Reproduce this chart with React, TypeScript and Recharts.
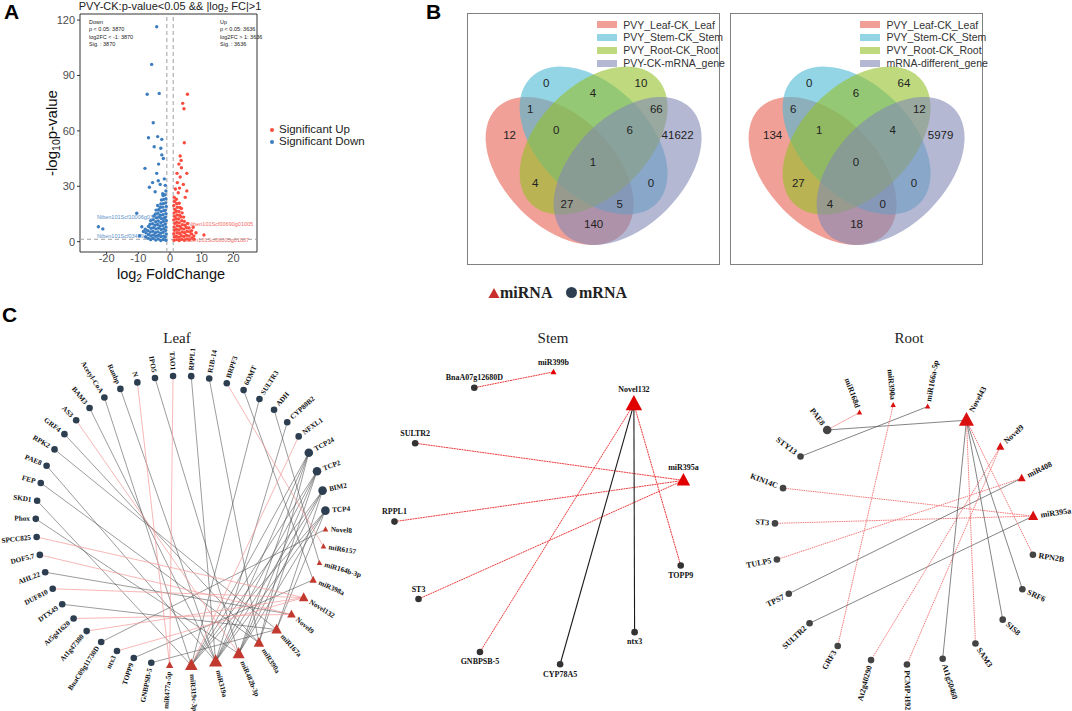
import React from 'react';
import { ScatterChart, Scatter, XAxis, YAxis, ReferenceLine, ReferenceArea } from 'recharts';

const SANS = '"Liberation Sans", Arial, sans-serif';
const SERIF = '"Liberation Serif", "Times New Roman", serif';

// ---------------- Panel A: volcano ----------------
const downPoints: [number, number][] = [
  [-4.2, 116.4], [-5.8, 96], [-7.2, 79.8], [-3.4, 80.3], [-5.3, 64.4], [-6.8, 56.3], [-3.9, 56.9], [-2.6, 55.4],
  [-2.9, 50.6], [-5.0, 51.4], [-2.6, 47], [-2.1, 45], [-7.9, 39.7], [-4.2, 37], [-3.7, 33], [-5.5, 32], [-3.1, 31],
  [-6.5, 29.5], [-4.7, 27], [-2.3, 26], [-10.5, 15.4], [-22.6, 8.1], [-21.2, 6.9], [-8.9, 8.1], [-8.4, 5.5],
  [-9.6, 3.2], [-1.8, 34], [-1.5, 30.5], [-3.6, 42],
  [-1.3, 0.8], [-1.5, 2.5], [-1.2, 4.2], [-1.4, 6.0], [-1.3, 7.9], [-1.5, 9.6], [-1.2, 11.5], [-1.4, 13.3],
  [-1.3, 15.2], [-1.5, 17.0], [-1.2, 19.1], [-1.4, 21.0], [-1.3, 23.2], [-1.6, 25.4], [-1.3, 27.5],
  [-2.1, 1.2], [-2.0, 3.0], [-2.2, 5.1], [-2.0, 7.0], [-2.3, 8.8], [-2.1, 10.9], [-1.9, 12.7], [-2.2, 14.6],
  [-2.0, 16.8], [-2.3, 18.7], [-2.1, 20.6], [-2.0, 22.9], [-2.2, 25.0],
  [-2.9, 0.6], [-2.8, 2.7], [-3.0, 4.6], [-2.8, 6.6], [-3.1, 8.5], [-2.9, 10.3], [-2.7, 12.4], [-3.0, 14.3],
  [-2.8, 16.4], [-3.1, 18.5], [-2.9, 20.4], [-2.7, 22.6],
  [-3.7, 1.4], [-3.6, 3.4], [-3.8, 5.3], [-3.6, 7.4], [-3.9, 9.3], [-3.7, 11.2], [-3.5, 13.3], [-3.8, 15.4],
  [-3.6, 17.3], [-3.9, 19.6],
  [-4.5, 0.9], [-4.4, 2.9], [-4.6, 4.8], [-4.4, 6.9], [-4.7, 8.9], [-4.5, 10.8], [-4.3, 12.9], [-4.6, 15.0], [-4.4, 17.1],
  [-5.3, 1.7], [-5.2, 3.7], [-5.4, 5.6], [-5.2, 7.6], [-5.5, 9.7], [-5.3, 11.8], [-5.1, 13.9],
  [-6.1, 1.1], [-6.0, 3.1], [-6.2, 5.2], [-6.0, 7.3], [-6.3, 9.4], [-6.1, 11.4],
  [-6.9, 1.8], [-6.8, 3.9], [-7.0, 6.0], [-6.8, 8.2],
  [-7.7, 2.6], [-7.6, 4.8], [-7.8, 6.7],
];

const upPoints: [number, number][] = [
  [5.5, 79.8], [4.0, 74.9], [4.4, 72], [4.5, 53.6], [3.2, 46.4], [3.5, 44], [2.8, 42], [3.6, 40], [2.2, 37],
  [5.3, 37], [3.2, 35], [2.3, 32], [4.2, 31], [3.0, 29], [5.3, 27.5], [10.7, 3.6], [6.8, 6], [1.7, 28.5],
  [2.6, 26.5], [8.2, 4.8], [7.3, 7.8], [4.8, 24],
  [1.3, 0.7], [1.4, 2.5], [1.2, 4.3], [1.4, 6.2], [1.3, 8.0], [1.5, 9.9], [1.2, 11.8], [1.4, 13.7], [1.3, 15.6],
  [1.5, 17.5], [1.2, 19.6], [1.4, 21.8], [1.3, 24.0],
  [2.1, 1.1], [2.0, 2.9], [2.2, 4.8], [2.0, 6.7], [2.3, 8.6], [2.1, 10.5], [1.9, 12.4], [2.2, 14.4], [2.0, 16.5],
  [2.3, 18.6], [2.1, 20.7], [2.0, 23.0],
  [2.9, 0.6], [2.8, 2.4], [3.0, 4.4], [2.8, 6.3], [3.1, 8.3], [2.9, 10.2], [2.7, 12.3], [3.0, 14.3], [2.8, 16.3],
  [3.1, 18.5], [2.9, 20.8],
  [3.7, 1.3], [3.6, 3.2], [3.8, 5.2], [3.6, 7.2], [3.9, 9.2], [3.7, 11.3], [3.5, 13.4], [3.8, 15.6], [3.6, 18.0],
  [4.5, 0.8], [4.4, 2.8], [4.6, 4.8], [4.4, 6.8], [4.7, 8.9], [4.5, 11.0], [4.3, 13.3],
  [5.3, 1.5], [5.2, 3.5], [5.4, 5.6], [5.2, 7.7], [5.5, 9.9],
  [6.1, 1.0], [6.0, 3.1], [6.2, 5.3], [6.0, 7.4],
  [6.9, 2.0], [6.8, 4.2],
  [7.6, 1.4], [7.5, 3.1],
];

const volcanoXTicks = [-20, -10, 0, 10, 20];
const volcanoYTicks = [0, 30, 60, 90, 120];
const downStats = ['Down', 'p < 0.05: 3870', 'log2FC < -1: 3870', 'Sig. : 3870'];
const upStats = ['Up', 'p < 0.05: 3636', 'log2FC > 1: 3636', 'Sig. : 3636'];

// ---------------- Panel B: Venn ----------------
const vennSets1 = ['PVY_Leaf-CK_Leaf', 'PVY_Stem-CK_Stem', 'PVY_Root-CK_Root', 'PVY-CK-mRNA_gene'];
const vennSets2 = ['PVY_Leaf-CK_Leaf', 'PVY_Stem-CK_Stem', 'PVY_Root-CK_Root', 'mRNA-different_gene'];
// regions: S, SR, R, LS, RM, L, LSR, SRM, M, LSRM, LR, SM, LRM, LSM, LM
const vennCounts1 = [0, 4, 10, 1, 66, 12, 0, 6, 41622, 1, 4, 0, 27, 5, 140];
const vennCounts2 = [0, 6, 64, 6, 12, 134, 1, 4, 5979, 0, 27, 0, 4, 0, 18];

// ---------------- Panel C: networks ----------------
type Edge = [string, string, 'grey' | 'red'];

const leafOrder = [
  'TCP4', 'Novel8', 'miR6157', 'miR164b-3p', 'miR398a', 'Novel132', 'Novel9', 'miR167a', 'miR390a', 'miR482b-3p',
  'miR319a', 'miR319c-3p', 'miR477a-5p', 'GNBPSB-5', 'TOPP9', 'ntx3', 'BnaC09g11730D', 'At1g47380', 'At5g41620',
  'DTX49', 'DUF810', 'AHL22', 'DOF5.7', 'SPCC825', 'Phox', 'SKD1', 'FEP', 'PAE8', 'RPK2', 'GRF4', 'AS3', 'BAM3',
  'Acetyl-CoA', 'Ranbp', 'N', 'IPO5', 'TAO1', 'RPPL1', 'R1B-14', 'BRPF3', '6OMT', 'SULTR3', 'ADH', 'CYP80B2',
  'NFXL1', 'TCP24', 'TCP2', 'BIM2',
];

const leafEdges: Edge[] = [
  ['TCP24', 'miR319a', 'grey'], ['TCP24', 'miR319c-3p', 'grey'], ['TCP24', 'miR482b-3p', 'grey'], ['TCP24', 'miR390a', 'grey'],
  ['TCP2', 'miR319a', 'grey'], ['TCP2', 'miR319c-3p', 'grey'], ['TCP2', 'miR482b-3p', 'grey'], ['TCP2', 'miR390a', 'grey'],
  ['BIM2', 'miR319a', 'grey'], ['BIM2', 'miR319c-3p', 'grey'], ['BIM2', 'miR482b-3p', 'grey'], ['BIM2', 'miR167a', 'grey'],
  ['TCP4', 'miR319a', 'grey'], ['TCP4', 'miR319c-3p', 'grey'], ['TCP4', 'miR482b-3p', 'grey'], ['TCP4', 'miR167a', 'grey'],
  ['Ranbp', 'miR319a', 'grey'], ['IPO5', 'miR482b-3p', 'grey'], ['RPPL1', 'miR319a', 'grey'], ['R1B-14', 'miR390a', 'grey'],
  ['Acetyl-CoA', 'miR319c-3p', 'grey'], ['BAM3', 'miR319a', 'grey'], ['GRF4', 'miR390a', 'grey'], ['RPK2', 'miR167a', 'grey'],
  ['PAE8', 'miR319a', 'grey'], ['FEP', 'miR390a', 'grey'], ['SKD1', 'miR319c-3p', 'grey'], ['Phox', 'miR482b-3p', 'grey'],
  ['AHL22', 'Novel9', 'grey'], ['DTX49', 'miR167a', 'grey'], ['BnaC09g11730D', 'Novel8', 'grey'], ['TOPP9', 'miR398a', 'grey'],
  ['GNBPSB-5', 'miR167a', 'grey'], ['CYP80B2', 'miR319a', 'grey'], ['ADH', 'miR164b-3p', 'grey'], ['SULTR3', 'miR319c-3p', 'grey'],
  ['6OMT', 'miR398a', 'grey'],
  ['N', 'miR477a-5p', 'red'], ['TAO1', 'miR477a-5p', 'red'], ['BRPF3', 'miR6157', 'red'], ['NFXL1', 'miR319c-3p', 'red'],
  ['AS3', 'miR482b-3p', 'red'], ['SPCC825', 'Novel132', 'red'], ['DOF5.7', 'Novel9', 'red'], ['DUF810', 'Novel132', 'red'],
  ['At5g41620', 'Novel9', 'red'], ['At1g47380', 'Novel132', 'red'], ['ntx3', 'Novel132', 'red'],
];

const stemOrder = ['miR399b', 'Novel132', 'miR395a', 'TOPP9', 'ntx3', 'CYP78A5', 'GNBPSB-5', 'ST3', 'RPPL1', 'SULTR2', 'BnaA07g12680D'];
const stemEdges: Edge[] = [
  ['BnaA07g12680D', 'miR399b', 'red'], ['SULTR2', 'miR395a', 'red'], ['RPPL1', 'miR395a', 'red'], ['ST3', 'miR395a', 'red'],
  ['GNBPSB-5', 'Novel132', 'red'], ['CYP78A5', 'Novel132', 'grey'], ['ntx3', 'Novel132', 'grey'], ['TOPP9', 'Novel132', 'red'],
];

const rootOrder = [
  'miR390a', 'miR166a-5p', 'Novel43', 'Novel9', 'miR408', 'miR395a', 'RPN2B', 'SRF6', 'SIS8', 'SAM3', 'At1g50460',
  'PCMP-H92', 'At2g40290', 'GRF3', 'SULTR2', 'TPS7', 'TULP5', 'ST3', 'KIN14C', 'STY13', 'PAE8', 'miR168d',
];
const rootEdges: Edge[] = [
  ['PAE8', 'miR168d', 'red'], ['PAE8', 'Novel43', 'grey'], ['STY13', 'miR166a-5p', 'grey'], ['GRF3', 'miR390a', 'red'],
  ['KIN14C', 'miR395a', 'red'], ['ST3', 'miR395a', 'red'], ['SULTR2', 'miR395a', 'grey'], ['TULP5', 'miR408', 'red'],
  ['TPS7', 'miR408', 'grey'], ['At2g40290', 'Novel9', 'red'], ['PCMP-H92', 'Novel9', 'red'], ['At1g50460', 'Novel43', 'grey'],
  ['SAM3', 'Novel43', 'red'], ['SIS8', 'Novel43', 'grey'], ['SRF6', 'Novel43', 'grey'], ['RPN2B', 'Novel43', 'red'],
];

// ---------------- layout & style ----------------
const vennColors = ['#E66152', '#4BB9D4', '#94C028', '#8289B6'];
const vennAxes = { rx: 89, ry: 55 };
const vennEllipses = [
  { x: 92.6, y: 158, rot: 45 },
  { x: 126.6, y: 127.6, rot: 45 },
  { x: 126.6, y: 127.6, rot: -45 },
  { x: 160.6, y: 158, rot: -45 },
];
const vennLabelPos = [
  [79.3, 69.6], [126, 80], [174, 69.6], [63.3, 95.6], [189.3, 95.6], [42.6, 122.3], [89.3, 116.6], [162.6, 116.6],
  [210.6, 122.3], [126, 149], [68.3, 169.6], [184, 169.6], [100, 190.6], [152.6, 190.6], [126.6, 211.3],
];

type NetCfg = {
  cx: number; cy: number; radius: number; span: number; start: number; gapBase: number;
  tri: [number, number]; cir: [number, number]; triColor: string; cirColor: string;
  grey: { stroke: string; width: number; opacity: number; dash?: string };
  red: { stroke: string; width: number; opacity: number; dash?: string };
  labels: 'radial' | 'stem'; fontSize: number;
};

const leafCfg: NetCfg = {
  cx: 181, cy: 521, radius: 145, span: 1.35, start: 4, gapBase: 11,
  tri: [2.8, 0.39], cir: [3.3, 0.19], triColor: '#C23A2F', cirColor: '#2C3E50',
  grey: { stroke: '#4d4d4d', width: 0.7, opacity: 0.8 },
  red: { stroke: '#F49A9A', width: 0.8, opacity: 0.9 },
  labels: 'radial', fontSize: 7.2,
};
const stemCfg: NetCfg = {
  cx: 541, cy: 518, radius: 147, span: 1.35, start: 85.3, gapBase: 60,
  tri: [3, 0.73], cir: [3.3, 0.3], triColor: '#E00000', cirColor: '#333333',
  grey: { stroke: '#1a1a1a', width: 1.1, opacity: 1 },
  red: { stroke: '#EE3B3B', width: 1, opacity: 1, dash: '2 0.6' },
  labels: 'stem', fontSize: 8,
};
const rootCfg: NetCfg = {
  cx: 904.5, cy: 534, radius: 130, span: 1.45, start: 95, gapBase: 19.4,
  tri: [2.7, 0.57], cir: [3.3, 0.38], triColor: '#DA1010', cirColor: '#444444',
  grey: { stroke: '#555555', width: 0.8, opacity: 0.9 },
  red: { stroke: '#F26B6B', width: 0.9, opacity: 1, dash: '1.5 0.8' },
  labels: 'radial', fontSize: 8,
};

const isMiRNA = (n: string) => /^(miR|Novel)/.test(n);

function buildNetwork(order: string[], edges: Edge[], cfg: NetCfg) {
  const deg: Record<string, number> = {};
  order.forEach((n) => (deg[n] = 0));
  edges.forEach(([a, b]) => {
    deg[a] += 1;
    deg[b] += 1;
  });
  const sizes = order.map((n) => {
    const d = Math.max(deg[n], 1);
    return isMiRNA(n) ? cfg.tri[0] * Math.pow(d, cfg.tri[1]) : cfg.cir[0] * Math.pow(d, cfg.cir[1]);
  });
  const raw = order.map((_, i) => cfg.gapBase + sizes[i] + sizes[(i + 1) % order.length]);
  const total = raw.reduce((s, v) => s + v, 0);
  let ang = cfg.start;
  const nodes = order.map((name, i) => {
    const r = (ang * Math.PI) / 180;
    const nd = { name, x: Math.cos(r), y: Math.sin(r), ang, s: sizes[i], mi: isMiRNA(name) };
    ang -= (raw[i] * 360) / total;
    return nd;
  });
  const byName: Record<string, (typeof nodes)[number]> = {};
  nodes.forEach((n) => (byName[n.name] = n));
  return { nodes, byName };
}

const Txt = ({ x, y, size, children, style }: any) => (
  <div style={{ position: 'absolute', left: x, top: y, fontSize: size, lineHeight: 1, whiteSpace: 'nowrap', ...style }}>
    {children}
  </div>
);
const Sub = ({ children }: any) => <span style={{ fontSize: '0.7em', verticalAlign: '-0.3em' }}>{children}</span>;

function Volcano() {
  const down = downPoints.map(([x, y]) => ({ x, y }));
  const up = upPoints.map(([x, y]) => ({ x, y }));
  const dot = (fill: string) => (p: any) => <circle cx={p.cx} cy={p.cy} r={1.7} fill={fill} />;
  const tick = { fontSize: 11, fill: '#4d4d4d', fontFamily: SANS };
  return (
    <div style={{ position: 'absolute', left: 0, top: 0, width: 380, height: 290 }}>
      <Txt x={97} y={215} size={5.5} style={{ color: '#5b8fc9' }}>Niben101Scf10006g03002</Txt>
      <Txt x={97} y={234} size={5.5} style={{ color: '#5b8fc9' }}>Niben101Scf03489g00013</Txt>
      <Txt x={188} y={222} size={5.5} style={{ color: '#f26a63' }}>Niben101Scf00690g01005</Txt>
      <Txt x={184} y={238} size={5.5} style={{ color: '#f26a63' }}>Niben101Scf06005g01007</Txt>
      <div style={{ position: 'absolute', left: 0, top: 0 }}>
        <ScatterChart width={380} height={290} margin={{ top: 14, right: 123, bottom: 18, left: 50 }}>
          <XAxis type="number" dataKey="x" domain={[-28.4, 27.44]} ticks={volcanoXTicks} interval={0}
            allowDataOverflow axisLine={false} tickLine={{ stroke: '#333' }} tickSize={2} tickMargin={0} height={20} tick={tick} />
          <YAxis type="number" dataKey="y" domain={[-5.6, 123.3]} ticks={volcanoYTicks} interval={0}
            allowDataOverflow axisLine={false} tickLine={{ stroke: '#333' }} tickSize={3} width={30} tick={tick} />
          <ReferenceLine x={-1} stroke="#a0a0a0" strokeDasharray="4 3" />
          <ReferenceLine x={1} stroke="#a0a0a0" strokeDasharray="4 3" />
          <ReferenceLine y={1.3} stroke="#a0a0a0" strokeDasharray="4 3" />
          <Scatter data={down} shape={dot('#3C7DC0')} isAnimationActive={false} />
          <Scatter data={up} shape={dot('#FB4B3E')} isAnimationActive={false} />
          <ReferenceArea x1={-28.4} x2={27.44} y1={-5.6} y2={123.3} fill="none" stroke="#333" strokeWidth={1} ifOverflow="visible" />
        </ScatterChart>
      </div>
      <div style={{ position: 'absolute', left: 89, top: 19, fontSize: 5.5, lineHeight: '7.3px', color: '#222' }}>
        {downStats.map((s) => <div key={s}>{s}</div>)}
      </div>
      <div style={{ position: 'absolute', left: 220, top: 19, fontSize: 5.5, lineHeight: '7.3px', color: '#222' }}>
        {upStats.map((s) => <div key={s}>{s}</div>)}
      </div>
      <Txt x={170} y={7} size={11} style={{ transform: 'translate(-50%,-50%)', color: '#222' }}>
        PVY-CK:p-value&lt;0.05 &amp;&amp; |log<Sub>2</Sub> FC|&gt;1
      </Txt>
      <Txt x={53} y={133} size={15} style={{ transform: 'translate(-50%,-50%) rotate(-90deg)', color: '#111' }}>
        -log<Sub>10</Sub>p-value
      </Txt>
      <Txt x={171} y={276} size={14.5} style={{ transform: 'translate(-50%,-50%)', color: '#111' }}>
        log<Sub>2</Sub> FoldChange
      </Txt>
      <div style={{ position: 'absolute', left: 270, top: 128, width: 4, height: 4, borderRadius: 2, background: '#FB4B3E' }} />
      <div style={{ position: 'absolute', left: 270, top: 140, width: 4, height: 4, borderRadius: 2, background: '#3C7DC0' }} />
      <Txt x={279} y={124} size={11.5} style={{ color: '#222' }}>Significant Up</Txt>
      <Txt x={279} y={136} size={11.5} style={{ color: '#222' }}>Significant Down</Txt>
    </div>
  );
}

function Venn({ left, sets, counts }: { left: number; sets: string[]; counts: number[] }) {
  const ellipses = vennEllipses.map((e, i) => ({ ...e, color: vennColors[i] }));
  const labels = counts.map((c, i) => ({ x: vennLabelPos[i][0], y: vennLabelPos[i][1], c }));
  const EllipseShape = (p: any) => (
    <ellipse cx={p.cx} cy={p.cy} rx={vennAxes.rx} ry={vennAxes.ry} transform={`rotate(${p.payload.rot} ${p.cx} ${p.cy})`}
      fill={p.payload.color} fillOpacity={0.6} />
  );
  const CountShape = (p: any) => (
    <text x={p.cx} y={p.cy} textAnchor="middle" dominantBaseline="central" fontSize={11.5} fontFamily={SANS} fill="#222">
      {p.payload.c}
    </text>
  );
  return (
    <div style={{ position: 'absolute', left, top: 12.7, width: 253, height: 252, border: '1px solid #808080', boxSizing: 'border-box' }}>
      <div style={{ position: 'absolute', left: -1, top: -1 }}>
        <ScatterChart width={253} height={252} margin={{ top: 0, right: 0, bottom: 0, left: 0 }}>
          <XAxis type="number" dataKey="x" domain={[0, 253]} hide />
          <YAxis type="number" dataKey="y" domain={[0, 252]} reversed hide />
          <Scatter data={ellipses} shape={EllipseShape} isAnimationActive={false} />
          <Scatter data={labels} shape={CountShape} isAnimationActive={false} />
        </ScatterChart>
      </div>
      {sets.map((s, i) => (
        <React.Fragment key={s}>
          <div style={{ position: 'absolute', left: 129, top: 7.6 + i * 12.8, width: 20, height: 7, background: vennColors[i], opacity: 0.6 }} />
          <Txt x={155.5} y={6 + i * 12.8} size={10.5} style={{ color: '#333' }}>{s}</Txt>
        </React.Fragment>
      ))}
    </div>
  );
}

function Network({ order, edges, cfg }: { order: string[]; edges: Edge[]; cfg: NetCfg }) {
  const { nodes, byName } = buildNetwork(order, edges, cfg);
  const S = 2 * cfg.span * cfg.radius;
  const noShape = () => <g />;
  const NodeShape = (p: any) => {
    const n = p.payload;
    const cx = p.cx;
    const cy = p.cy;
    const s = n.s;
    const mark = n.mi ? (
      <polygon points={`${cx},${cy - 1.1 * s} ${cx - s},${cy + 0.75 * s} ${cx + s},${cy + 0.75 * s}`} fill={cfg.triColor} />
    ) : (
      <circle cx={cx} cy={cy} r={s} fill={cfg.cirColor} />
    );
    let label;
    if (cfg.labels === 'radial') {
      const r = (n.ang * Math.PI) / 180;
      const c = Math.cos(r);
      const sn = Math.sin(r);
      const right = c > -0.01;
      const d = s + 2.5;
      const lx = cx + d * c;
      const ly = cy - d * sn;
      const rot = right ? -n.ang : 180 - n.ang;
      label = (
        <text x={lx} y={ly} transform={`rotate(${rot} ${lx} ${ly})`} textAnchor={right ? 'start' : 'end'}
          dominantBaseline="central" fontSize={cfg.fontSize} fontWeight="bold" fontFamily={SERIF} fill="#111">
          {n.name}
        </text>
      );
    } else {
      const below = n.y < 0 && n.x > -0.5;
      label = (
        <text x={cx} y={below ? cy + s + 9 : cy - s - 4} textAnchor="middle" fontSize={cfg.fontSize}
          fontWeight="bold" fontFamily={SERIF} fill="#111">
          {n.name}
        </text>
      );
    }
    return <g>{mark}{label}</g>;
  };
  return (
    <div style={{ position: 'absolute', left: cfg.cx - S / 2, top: cfg.cy - S / 2 }}>
      <ScatterChart width={S} height={S} margin={{ top: 0, right: 0, bottom: 0, left: 0 }}>
        <XAxis type="number" dataKey="x" domain={[-cfg.span, cfg.span]} hide />
        <YAxis type="number" dataKey="y" domain={[-cfg.span, cfg.span]} hide />
        {edges.map(([a, b, kind], i) => {
          const st = cfg[kind];
          return (
            <Scatter key={`e${i}`} data={[byName[a], byName[b]]} shape={noShape} isAnimationActive={false}
              line={{ stroke: st.stroke, strokeWidth: st.width, strokeOpacity: st.opacity, strokeDasharray: st.dash }} />
          );
        })}
        <Scatter data={nodes} shape={NodeShape} isAnimationActive={false} />
      </ScatterChart>
    </div>
  );
}

export default function App() {
  return (
    <div style={{ position: 'absolute', left: 0, top: 0, width: 1072, height: 711, background: '#fff', fontFamily: SANS, overflow: 'hidden' }}>
      <Volcano />
      <Venn left={466.7} sets={vennSets1} counts={vennCounts1} />
      <Venn left={730} sets={vennSets2} counts={vennCounts2} />

      <Network order={leafOrder} edges={leafEdges} cfg={leafCfg} />
      <Network order={stemOrder} edges={stemEdges} cfg={stemCfg} />
      <Network order={rootOrder} edges={rootEdges} cfg={rootCfg} />

      <Txt x={4} y={1} size={21} style={{ fontWeight: 'bold' }}>A</Txt>
      <Txt x={426} y={1} size={21} style={{ fontWeight: 'bold' }}>B</Txt>
      <Txt x={2} y={304} size={21} style={{ fontWeight: 'bold' }}>C</Txt>

      <svg style={{ position: 'absolute', left: 488, top: 287 }} width={12} height={12}>
        <polygon points="6,1 0.5,11 11.5,11" fill="#C9302C" />
      </svg>
      <Txt x={500} y={285} size={16} style={{ fontFamily: SERIF, fontWeight: 'bold', color: '#222' }}>miRNA</Txt>
      <div style={{ position: 'absolute', left: 566, top: 287, width: 11, height: 11, borderRadius: 6, background: '#2C3E50' }} />
      <Txt x={579} y={285} size={16} style={{ fontFamily: SERIF, fontWeight: 'bold', color: '#222' }}>mRNA</Txt>

      <Txt x={177} y={338} size={15} style={{ fontFamily: SERIF, transform: 'translate(-50%,-50%)', color: '#222' }}>Leaf</Txt>
      <Txt x={553} y={338} size={15} style={{ fontFamily: SERIF, transform: 'translate(-50%,-50%)', color: '#222' }}>Stem</Txt>
      <Txt x={909} y={338} size={15} style={{ fontFamily: SERIF, transform: 'translate(-50%,-50%)', color: '#222' }}>Root</Txt>
    </div>
  );
}
